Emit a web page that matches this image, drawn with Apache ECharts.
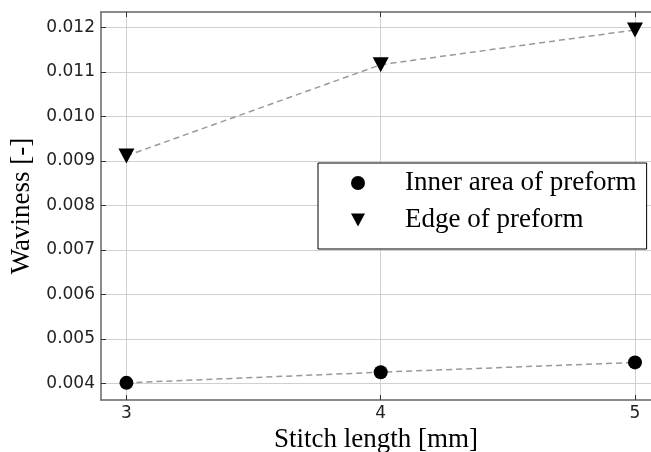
<!DOCTYPE html>
<html>
<head>
<meta charset="utf-8">
<script src="https://cdn.jsdelivr.net/npm/echarts@6/dist/echarts.min.js"></script>
<style>html,body{margin:0;padding:0;background:#fff;overflow:hidden}#c{width:651px;height:452px}</style>
</head>
<body>
<div id="c"></div>
<script>
var stitchLengths = [3, 4, 5];
var innerArea = [0.00401, 0.00425, 0.00447];
var edgeArea = [0.00911, 0.01116, 0.01194];
var xTicks = [3, 4, 5];
var yTicks = [0.004, 0.005, 0.006, 0.007, 0.008, 0.009, 0.010, 0.011, 0.012];
var seriesNames = ['Inner area of preform', 'Edge of preform'];

var triPath = 'path://M0,0 L16,0 L8,15 Z';
function pairs(xs, ys) { return xs.map(function (x, i) { return [x, ys[i]]; }); }

var chart = echarts.init(document.getElementById('c'), null, {renderer: 'canvas'});
var axisLineStyle = {color: '#666', width: 1.5};
chart.setOption({
  animation: false,
  backgroundColor: '#fff',
  grid: {left: 101, top: 12, bottom: 52, right: 0, containLabel: false, outerBoundsMode: 'none'},
  legend: {
    orient: 'vertical', left: 318, top: 163,
    padding: [5, 10, 14, 33],
    itemGap: 7, itemWidth: 14, itemHeight: 14,
    borderColor: '#000', borderWidth: 1, backgroundColor: '#fff',
    textStyle: {fontFamily: 'Liberation Serif', fontSize: 27, color: '#000', lineHeight: 30, padding: [0, 0, 0, 35]},
    data: [
      {name: seriesNames[0], icon: 'circle'},
      {name: seriesNames[1], icon: triPath}
    ]
  },
  xAxis: [{
    type: 'value', min: 2.9, max: 5.063, position: 'bottom',
    name: 'Stitch length [mm]', nameLocation: 'middle', nameGap: 25,
    nameTextStyle: {fontFamily: 'Liberation Serif', fontSize: 27, color: '#000'},
    axisLine: {show: true, onZero: false, lineStyle: axisLineStyle},
    axisTick: {show: true, inside: true, length: 5, customValues: xTicks, lineStyle: {color: '#333'}},
    axisLabel: {customValues: xTicks, margin: 5, fontFamily: 'DejaVu Sans', fontSize: 17, color: '#222'},
    splitLine: {show: true, lineStyle: {color: '#d0d0d0', width: 1}}
  }, {
    type: 'value', min: 2.9, max: 5.063, position: 'top',
    axisLine: {show: true, onZero: false, lineStyle: axisLineStyle},
    axisTick: {show: true, inside: true, length: 5, customValues: xTicks, lineStyle: {color: '#333'}},
    axisLabel: {show: false},
    splitLine: {show: false}
  }],
  yAxis: [{
    type: 'value', min: 0.003625, max: 0.012344, position: 'left',
    name: 'Waviness [-]', nameLocation: 'middle', nameGap: 57, nameRotate: 90,
    nameTextStyle: {fontFamily: 'Liberation Serif', fontSize: 27, color: '#000'},
    axisLine: {show: true, onZero: false, lineStyle: axisLineStyle},
    axisTick: {show: true, inside: true, length: 5, customValues: yTicks, lineStyle: {color: '#333'}},
    axisLabel: {customValues: yTicks, margin: 6, fontFamily: 'DejaVu Sans', fontSize: 17, color: '#222',
      formatter: function (v) { return v.toFixed(3); }},
    splitLine: {show: true, lineStyle: {color: '#d0d0d0', width: 1}}
  }],
  series: [{
    name: seriesNames[0], type: 'line', data: pairs(stitchLengths, innerArea),
    symbol: 'circle', symbolSize: 14,
    itemStyle: {color: '#000'},
    lineStyle: {color: '#999', width: 1.5, type: [6, 4]}
  }, {
    name: seriesNames[1], type: 'line', data: pairs(stitchLengths, edgeArea),
    symbol: triPath, symbolSize: [16, 15],
    itemStyle: {color: '#000'},
    lineStyle: {color: '#999', width: 1.5, type: [6, 4]}
  }]
});
</script>
</body>
</html>
